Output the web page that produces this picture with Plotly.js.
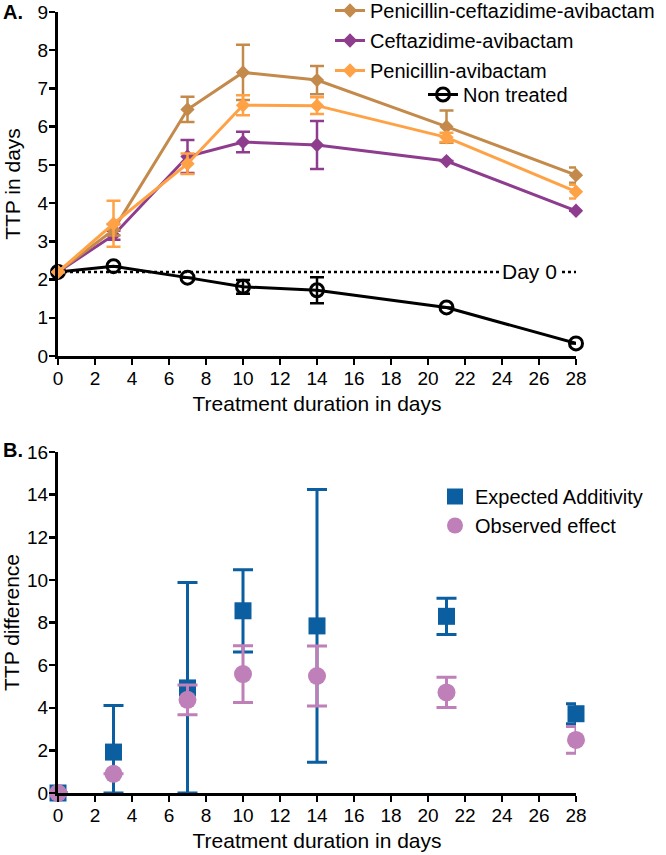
<!DOCTYPE html>
<html>
<head>
<meta charset="utf-8">
<script src="https://cdn.plot.ly/plotly-3.0.1.min.js"></script>
<style>html,body{margin:0;padding:0;background:#fff;}#chart{width:666px;height:855px;}</style>
</head>
<body>
<div id="chart"></div>
<script>
// ---- Data ----
const days = [0, 3, 7, 10, 14, 21, 28];
const penCeftAvi = [2.2, 3.3, 6.45, 7.42, 7.22, 6.0, 4.73];
const penCeftAviErr = [0, 0.15, 0.33, 0.72, 0.37, 0.42, 0.2];
const ceftAvi = [2.2, 3.16, 5.22, 5.6, 5.52, 5.1, 3.8];
const ceftAviErr = [0, 0.12, 0.43, 0.27, 0.63, 0, 0];
const penAvi = [2.2, 3.46, 5.03, 6.56, 6.55, 5.72, 4.3];
const penAviErr = [0, 0.6, 0.27, 0.26, 0.22, 0.12, 0.18];
const nonTreated = [2.2, 2.35, 2.05, 1.81, 1.72, 1.27, 0.33];
const nonTreatedErr = [0, 0, 0, 0.18, 0.34, 0, 0];
const day0Days = [0, 28];
const day0Value = [2.2, 2.2];

const expected = [0, 1.92, 4.93, 8.55, 7.84, 8.29, 3.72];
const expectedErrPlus = [0, 2.18, 4.95, 1.93, 6.4, 0.85, 0.47];
const expectedErrMinus = [0, 1.92, 4.93, 1.93, 6.4, 0.85, 0.47];
const observed = [0, 0.9, 4.37, 5.58, 5.49, 4.72, 2.49];
const observedErr = [0, 0, 0.7, 1.33, 1.41, 0.71, 0.63];

const xTicks = [0,2,4,6,8,10,12,14,16,18,20,22,24,26,28];

// ---- Styles ----
const FONT = '"Liberation Sans", Arial, Helvetica, sans-serif';
const cBrown = '#C48A4B', cPurple = '#8E3C8E', cOrange = '#FFA246', cBlack = '#000000';
const cBlue = '#0B5EA0', cPink = '#BF7FB8';

function lineTrace(name, y, err, color, rank, group) {
  return {
    x: days, y: y, name: name, type: 'scatter', mode: 'lines+markers',
    line: {color: color, width: 3},
    marker: {symbol: 'diamond', size: 11, color: color},
    error_y: {type: 'data', array: err, visible: true, color: color, thickness: 2.5, width: 7},
    cliponaxis: false, legendrank: rank, legendgroup: group,
    xaxis: 'x', yaxis: 'y', legend: 'legend'
  };
}

const traces = [
  {x: day0Days, y: day0Value, type: 'scatter', mode: 'lines', showlegend: false,
   line: {color: '#000', width: 2.5, dash: 'dot'}, xaxis: 'x', yaxis: 'y', hoverinfo: 'skip'},
  {x: days, y: nonTreated, name: 'Non treated', type: 'scatter', mode: 'lines+markers',
   line: {color: cBlack, width: 3},
   marker: {symbol: 'circle-open', size: 13, color: cBlack, line: {width: 3, color: cBlack}},
   error_y: {type: 'data', array: nonTreatedErr, visible: true, color: cBlack, thickness: 2.5, width: 7},
   cliponaxis: false, xaxis: 'x', yaxis: 'y', legend: 'legend2'},
  lineTrace('Ceftazidime-avibactam', ceftAvi, ceftAviErr, cPurple, 2, 'g2'),
  lineTrace('Penicillin-ceftazidime-avibactam', penCeftAvi, penCeftAviErr, cBrown, 1, 'g1'),
  lineTrace('Penicillin-avibactam', penAvi, penAviErr, cOrange, 3, 'g3'),
  {x: days, y: expected, name: 'Expected Additivity', type: 'scatter', mode: 'markers',
   marker: {symbol: 'square', size: 17, color: cBlue},
   error_y: {type: 'data', symmetric: false, array: expectedErrPlus, arrayminus: expectedErrMinus,
             visible: true, color: cBlue, thickness: 3, width: 10},
   cliponaxis: false, xaxis: 'x2', yaxis: 'y2', legend: 'legend3'},
  {x: days, y: observed, name: 'Observed effect', type: 'scatter', mode: 'markers',
   marker: {symbol: 'circle', size: 18, color: cPink},
   error_y: {type: 'data', array: observedErr, visible: true, color: cPink, thickness: 3, width: 10},
   cliponaxis: false, xaxis: 'x2', yaxis: 'y2', legend: 'legend3'}
];

const axisCommon = {
  showgrid: false, zeroline: false, showline: true, linecolor: '#000', linewidth: 3,
  ticks: 'outside', ticklen: 6, tickwidth: 2.5, tickcolor: '#000', ticklabelstandoff: -3,
  tickfont: {family: FONT, size: 19, color: '#000'}, fixedrange: true
};

const L = 58, R = 90, T = 12, B = 62;
const plotW = 666 - L - R, plotH = 855 - T - B;
const px = (p) => (p - L) / plotW;          // pixel x -> paper
const py = (p) => (855 - B - p) / plotH;     // pixel y -> paper

const layout = {
  width: 666, height: 855,
  margin: {l: L, r: R, t: T, b: B, autoexpand: false},
  paper_bgcolor: '#fff', plot_bgcolor: 'rgba(0,0,0,0)',
  font: {family: FONT, color: '#000'},
  xaxis: Object.assign({}, axisCommon, {domain: [0, 1], range: [0, 28], tickvals: xTicks, anchor: 'y',
    title: {text: 'Treatment duration in days', font: {family: FONT, size: 21}, standoff: 9}}),
  yaxis: Object.assign({}, axisCommon, {domain: [py(356), 1], range: [0, 9], dtick: 1, tick0: 0, anchor: 'x',
    title: {text: 'TTP in days', font: {family: FONT, size: 21}, standoff: 12}}),
  xaxis2: Object.assign({}, axisCommon, {domain: [0, 1], range: [0, 28], tickvals: xTicks, anchor: 'y2',
    title: {text: 'Treatment duration in days', font: {family: FONT, size: 21}, standoff: 9}}),
  yaxis2: Object.assign({}, axisCommon, {domain: [0, py(452)], range: [0, 16], dtick: 2, tick0: 0, anchor: 'x2',
    title: {text: 'TTP difference', font: {family: FONT, size: 21}, standoff: 12}}),
  legend: {x: px(330), y: py(-9), xanchor: 'left', yanchor: 'top', bgcolor: 'rgba(255,255,255,0)',
    font: {family: FONT, size: 20, color: '#000'}, tracegroupgap: 1, traceorder: 'grouped'},
  legend2: {x: px(423), y: py(75), xanchor: 'left', yanchor: 'top', bgcolor: 'rgba(255,255,255,0)',
    font: {family: FONT, size: 20, color: '#000'}},
  legend3: {x: px(435), y: py(477), xanchor: 'left', yanchor: 'top', bgcolor: 'rgba(255,255,255,0)',
    font: {family: FONT, size: 20, color: '#000'}, tracegroupgap: 1},
  annotations: [
    {text: 'Day 0', x: 25.5, y: 2.2, xref: 'x', yref: 'y', showarrow: false,
     font: {family: FONT, size: 21, color: '#000'}, bgcolor: '#fff', borderpad: 2},
    {text: '<b>A.</b>', x: px(13), y: py(12), xref: 'paper', yref: 'paper',
     xanchor: 'center', yanchor: 'middle', showarrow: false, font: {family: FONT, size: 20, color: '#000'}},
    {text: '<b>B.</b>', x: px(13), y: py(450), xref: 'paper', yref: 'paper',
     xanchor: 'center', yanchor: 'middle', showarrow: false, font: {family: FONT, size: 20, color: '#000'}}
  ],
  showlegend: true
};

Plotly.newPlot('chart', traces, layout, {staticPlot: true, displayModeBar: false});
</script>
</body>
</html>
